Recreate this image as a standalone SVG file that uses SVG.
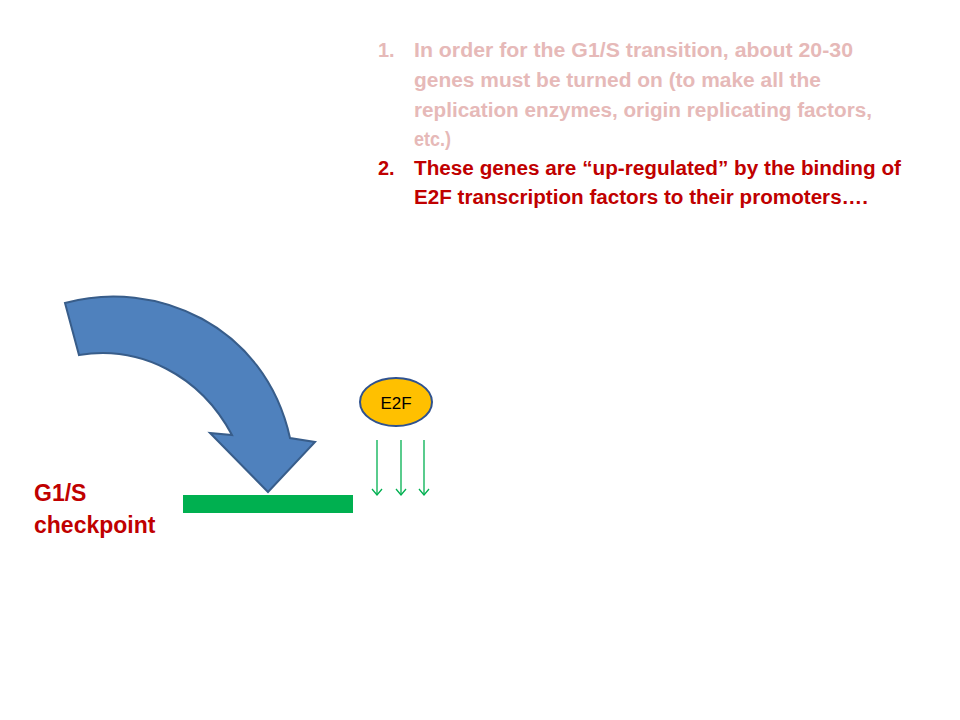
<svg xmlns="http://www.w3.org/2000/svg" width="960" height="720" viewBox="0 0 960 720">
<defs>
<style>
.t{font-family:"Liberation Sans",Arial,sans-serif;font-weight:bold;font-size:20px}
.pale{fill:#E6B9B8}
.red{fill:#C00000}
.lbl{font-family:"Liberation Sans",Arial,sans-serif;font-weight:bold;font-size:23px;fill:#C00000}
.conn{stroke:#00B050;stroke-width:1.3;fill:none}
</style>
<marker id="ah" viewBox="0 0 12 12" refX="11" refY="6" markerWidth="12" markerHeight="12" markerUnits="userSpaceOnUse" orient="auto">
<path d="M5,1 L11,6 L5,11" fill="none" stroke="#00B050" stroke-width="1.3"/>
</marker>
</defs>
<rect width="960" height="720" fill="#fff"/>
<g id="text-list">
<text class="t pale" x="378" y="57">1.</text>
<text class="t pale" x="414" y="57" textLength="439" lengthAdjust="spacingAndGlyphs">In order for the G1/S transition, about 20-30</text>
<text class="t pale" x="414" y="87" textLength="407" lengthAdjust="spacingAndGlyphs">genes must be turned on (to make all the</text>
<text class="t pale" x="414" y="117" textLength="458" lengthAdjust="spacingAndGlyphs">replication enzymes, origin replicating factors,</text>
<text class="t pale" x="414" y="146" textLength="37" lengthAdjust="spacingAndGlyphs">etc.)</text>
<text class="t red" x="378" y="175">2.</text>
<text class="t red" x="414" y="175" textLength="487" lengthAdjust="spacingAndGlyphs">These genes are “up-regulated” by the binding of</text>
<text class="t red" x="414" y="204" textLength="454" lengthAdjust="spacingAndGlyphs">E2F transcription factors to their promoters….</text>
</g>
<g id="curved-arrow">
<path d="M65,303 C155,278 265,325 290,438 L315,442 L268,492 L210,433 L232,435 C200,375 140,345 79,355 Z" fill="#4F81BD" stroke="#385D8A" stroke-width="2" stroke-linejoin="miter"/>
</g>
<g id="checkpoint-bar">
<rect x="183" y="495" width="170" height="18" fill="#00B050"/>
</g>
<g id="checkpoint-label">
<text class="lbl" x="34" y="501">G1/S</text>
<text class="lbl" x="34" y="533">checkpoint</text>
</g>
<g id="e2f">
<ellipse cx="396" cy="402" rx="36" ry="24" fill="#FFC000" stroke="#2F528F" stroke-width="2"/>
<text x="396" y="409" text-anchor="middle" font-family="Liberation Sans,Arial,sans-serif" font-size="17" fill="#000">E2F</text>
</g>
<g id="connectors">
<line class="conn" x1="377" y1="440" x2="377" y2="495" marker-end="url(#ah)"/>
<line class="conn" x1="401" y1="440" x2="401" y2="495" marker-end="url(#ah)"/>
<line class="conn" x1="424" y1="440" x2="424" y2="495" marker-end="url(#ah)"/>
</g>
</svg>
